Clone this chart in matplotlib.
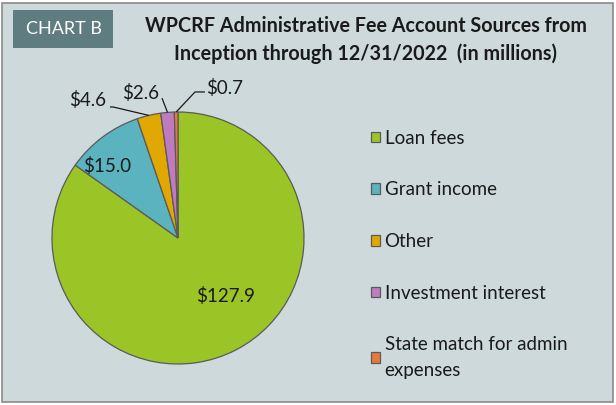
import numpy as np
import matplotlib.pyplot as plt
from matplotlib.patches import Rectangle

plt.rcParams['font.family'] = ['Lato', 'DejaVu Sans']

categories = ['Loan fees', 'Grant income', 'Other', 'Investment interest',
              'State match for admin\nexpenses']
values = [127.9, 15.0, 4.6, 2.6, 0.7]
colors = ['#9BC527', '#5BB3BF', '#E0A800', '#BF7BBF', '#E8793C']
value_labels = ['$127.9', '$15.0', '$4.6', '$2.6', '$0.7']

bg = '#CDD9DB'
fig = plt.figure(figsize=(6.16, 4.05), dpi=100, facecolor='white')
W, H = 616, 405

# panel background and border (behind the axes)
fig.patches.append(Rectangle((2 / W, 3 / H), 611 / W, 399 / H, transform=fig.transFigure,
                             facecolor=bg, edgecolor='#8A8A8A', linewidth=1.2, zorder=-2))
# "CHART B" tag
fig.patches.append(Rectangle((13 / W, (H - 48) / H), 100 / W, 38 / H, transform=fig.transFigure,
                             facecolor='#5F7C81', edgecolor='none', zorder=-1))
fig.text(64 / W, (H - 29) / H, 'CHART B', color='white', fontsize=13,
         ha='center', va='center')

fig.text(366 / W, (H - 40) / H,
         'WPCRF Administrative Fee Account Sources from\nInception through 12/31/2022  (in millions)',
         ha='center', va='center', fontsize=14.2, fontweight='bold', color='#1A1A1A',
         linespacing=1.4)

# pie axes: centre (178, 238), radius 126 px
cx, cy, r = 178, 238, 126
ax = fig.add_axes([(cx - r) / W, (H - cy - r) / H, 2 * r / W, 2 * r / H])
ax.set_facecolor('none')
wedges, _ = ax.pie(values, colors=colors, startangle=90, counterclock=False,
                   wedgeprops=dict(edgecolor='#5A5A5A', linewidth=0.9))
ax.set_xlim(-1, 1)
ax.set_ylim(-1, 1)
ax.set_aspect('equal')

mid = [np.deg2rad((w.theta1 + w.theta2) / 2) for w in wedges]

# inside labels
for i, (rad, dang) in zip([0, 1], [(0.6, 12), (0.8, 8)]):
    a = mid[i] + np.deg2rad(dang)
    ax.text(rad * np.cos(a), rad * np.sin(a), value_labels[i], ha='center', va='center',
            fontsize=13.5, color='#1A1A1A')

# outside labels: text position, then leader path (elbow points) toward the wedge edge
outside = {
    2: ((-0.714, 1.095), [(-0.54, 1.04), (-0.516, 1.04)]),
    3: ((-0.294, 1.15), [(-0.127, 1.11)]),
    4: ((0.373, 1.19), [(0.214, 1.159), (0.135, 1.159)]),
}
for i, ((tx, ty), path) in outside.items():
    ax.text(tx, ty, value_labels[i], ha='center', va='center', fontsize=13.5,
            color='#1A1A1A', clip_on=False)
    a = mid[i]
    xs = [p[0] for p in path] + [np.cos(a)]
    ys = [p[1] for p in path] + [np.sin(a)]
    ax.plot(xs, ys, color='#1A1A1A', lw=0.9, clip_on=False, solid_capstyle='butt')

leg = fig.legend(wedges, categories, loc='upper left', bbox_to_anchor=(363 / W, (H - 122) / H),
                 frameon=False, fontsize=13.5, handlelength=0.5, handleheight=0.5,
                 handletextpad=0.25, labelspacing=1.85, borderaxespad=0)
for t in leg.get_texts():
    t.set_color('#1A1A1A')
    t.set_linespacing(1.6)

fig.savefig('out.png', dpi=100, facecolor='white')
